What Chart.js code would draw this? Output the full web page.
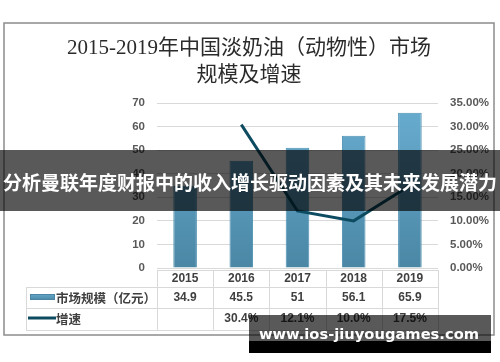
<!DOCTYPE html>
<html>
<head>
<meta charset="utf-8">
<script src="https://cdn.jsdelivr.net/npm/chart.js@4.4.0/dist/chart.umd.min.js"></script>
<style>
  body { margin: 0; background: #fff; }
  #wrap { width: 500px; height: 362px; }
</style>
</head>
<body>
<div id="wrap"><canvas id="myChart" width="500" height="362"></canvas></div>
<script>
const years = ['2015', '2016', '2017', '2018', '2019'];
const marketSize = [34.9, 45.5, 51, 56.1, 65.9];
const growthRate = [null, 30.4, 12.1, 10.0, 17.5];
const leftMax = 70;
const rightMax = 35;
const titleLines = ['2015-2019年中国淡奶油（动物性）市场', '规模及增速'];
const sizeLabel = '市场规模（亿元）';
const growthLabel = '增速';
const bannerText = '分析曼联年度财报中的收入增长驱动因素及其未来发展潜力';
const watermarkText = 'www.ios-jiuyougames.com';

const lineColor = '#0d4b61';
const gridColor = '#d9d9d9';
const textColor = '#404040';

function barGradient(ctx, top, bottom) {
  const g = ctx.createLinearGradient(0, top, 0, bottom);
  g.addColorStop(0, '#68add1');
  g.addColorStop(1, '#4b87a5');
  return g;
}

// frame, title, table, banner, watermark
const decorPlugin = {
  id: 'decor',
  beforeDraw(chart) {
    const ctx = chart.ctx;
    ctx.save();
    ctx.fillStyle = '#fff';
    ctx.fillRect(0, 0, chart.width, chart.height);
    ctx.strokeStyle = '#8c8c8c';
    ctx.lineWidth = 1.5;
    ctx.strokeRect(4, 23, 490, 312);
    ctx.fillStyle = '#2b2b2b';
    ctx.font = '21px "Liberation Serif", "Noto Sans CJK SC"';
    ctx.textAlign = 'center';
    ctx.textBaseline = 'middle';
    ctx.fillText(titleLines[0], 249, 48);
    ctx.fillText(titleLines[1], 249, 75);
    ctx.restore();
  },
  afterDraw(chart) {
    const ctx = chart.ctx;
    const x = chart.scales.x;
    const area = chart.chartArea;
    const half = (x.getPixelForValue(1) - x.getPixelForValue(0)) / 2;
    const rows = [270, 287, 308, 330];
    const leftX = 26;

    ctx.save();
    ctx.strokeStyle = gridColor;
    ctx.lineWidth = 1;
    ctx.beginPath();
    ctx.moveTo(area.left, rows[0] + 0.5);
    ctx.lineTo(area.right, rows[0] + 0.5);
    for (let r = 1; r < rows.length; r++) {
      ctx.moveTo(leftX, rows[r] + 0.5);
      ctx.lineTo(area.right, rows[r] + 0.5);
    }
    ctx.moveTo(leftX + 0.5, rows[1]);
    ctx.lineTo(leftX + 0.5, rows[3]);
    for (let i = 0; i <= years.length; i++) {
      const px = Math.round(x.getPixelForValue(i) - half) + 0.5;
      ctx.moveTo(px, rows[0]);
      ctx.lineTo(px, rows[3]);
    }
    ctx.stroke();

    ctx.fillStyle = textColor;
    ctx.textAlign = 'center';
    ctx.textBaseline = 'middle';
    ctx.font = 'bold 12px "Liberation Sans", sans-serif';
    years.forEach((y, i) => {
      const cx = x.getPixelForValue(i);
      ctx.fillText(y, cx, 279);
      ctx.fillText(String(marketSize[i]), cx, 298);
      if (growthRate[i] !== null) {
        ctx.fillText(growthRate[i].toFixed(1) + '%', cx, 319);
      }
    });

    // legend keys
    ctx.fillStyle = barGradient(ctx, 293, 300);
    ctx.fillRect(30, 294, 25, 6);
    ctx.strokeStyle = '#4a86a4';
    ctx.strokeRect(30.5, 294.5, 24, 5);
    ctx.strokeStyle = lineColor;
    ctx.lineWidth = 3;
    ctx.beginPath();
    ctx.moveTo(28, 318);
    ctx.lineTo(56, 318);
    ctx.stroke();
    ctx.fillStyle = textColor;
    ctx.textAlign = 'left';
    ctx.font = 'bold 12.5px "Noto Sans CJK SC"';
    ctx.fillText(sizeLabel, 56, 298);
    ctx.fillText(growthLabel, 56, 319);

    // banner
    ctx.fillStyle = 'rgba(0,0,0,0.65)';
    ctx.fillRect(0, 150, 500, 61);
    ctx.fillStyle = '#fff';
    ctx.textAlign = 'center';
    ctx.font = 'bold 19px "Noto Sans CJK SC"';
    ctx.fillText(bannerText, 250, 183);

    // watermark
    ctx.fillStyle = 'rgba(0,0,0,0.65)';
    ctx.fillRect(249, 315, 242, 26);
    ctx.fillStyle = '#000';
    ctx.fillRect(249, 341, 242, 12);
    ctx.fillStyle = '#fff';
    let size = 20;
    ctx.font = 'bold ' + size + 'px "DejaVu Sans", sans-serif';
    const w = ctx.measureText(watermarkText).width;
    size = size * 220 / w;
    ctx.font = 'bold ' + size.toFixed(1) + 'px "DejaVu Sans", sans-serif';
    ctx.fillText(watermarkText, 369, 335);
    ctx.restore();
  }
};

const config = {
  data: {
    labels: years,
    datasets: [
      {
        type: 'line',
        label: growthLabel,
        data: growthRate,
        yAxisID: 'y1',
        borderColor: lineColor,
        borderWidth: 3,
        pointRadius: 0,
        tension: 0,
        fill: false,
        order: 0
      },
      {
        type: 'bar',
        label: sizeLabel,
        data: marketSize,
        yAxisID: 'y',
        backgroundColor: (c) => {
          const a = c.chart.chartArea;
          if (!a) return '#5a9cbf';
          return barGradient(c.chart.ctx, a.top, a.bottom);
        },
        borderColor: '#4b8eb0',
        borderWidth: 1,
        barPercentage: 0.42,
        categoryPercentage: 1,
        order: 1
      }
    ]
  },
  options: {
    responsive: false,
    animation: false,
    devicePixelRatio: 1,
    layout: { padding: { left: 4, right: 5, top: 103, bottom: 94 } },
    plugins: {
      legend: { display: false },
      title: { display: false },
      tooltip: { enabled: false }
    },
    scales: {
      x: { display: false },
      y: {
        position: 'left',
        min: 0,
        max: leftMax,
        ticks: {
          stepSize: 10,
          padding: 12,
          color: '#595959',
          font: { family: 'Liberation Sans', size: 11.5, weight: 'bold' }
        },
        grid: { color: gridColor, drawTicks: false },
        border: { display: false },
        afterFit(scale) { scale.width = 153; }
      },
      y1: {
        position: 'right',
        min: 0,
        max: rightMax,
        ticks: {
          stepSize: 5,
          padding: 12,
          color: '#595959',
          font: { family: 'Liberation Sans', size: 11.5, weight: 'bold' },
          callback: (v) => v.toFixed(2) + '%'
        },
        grid: { display: false, drawTicks: false },
        border: { display: false },
        afterFit(scale) { scale.width = 57; }
      }
    }
  },
  plugins: [decorPlugin]
};

new Chart(document.getElementById('myChart'), config);
</script>
</body>
</html>
